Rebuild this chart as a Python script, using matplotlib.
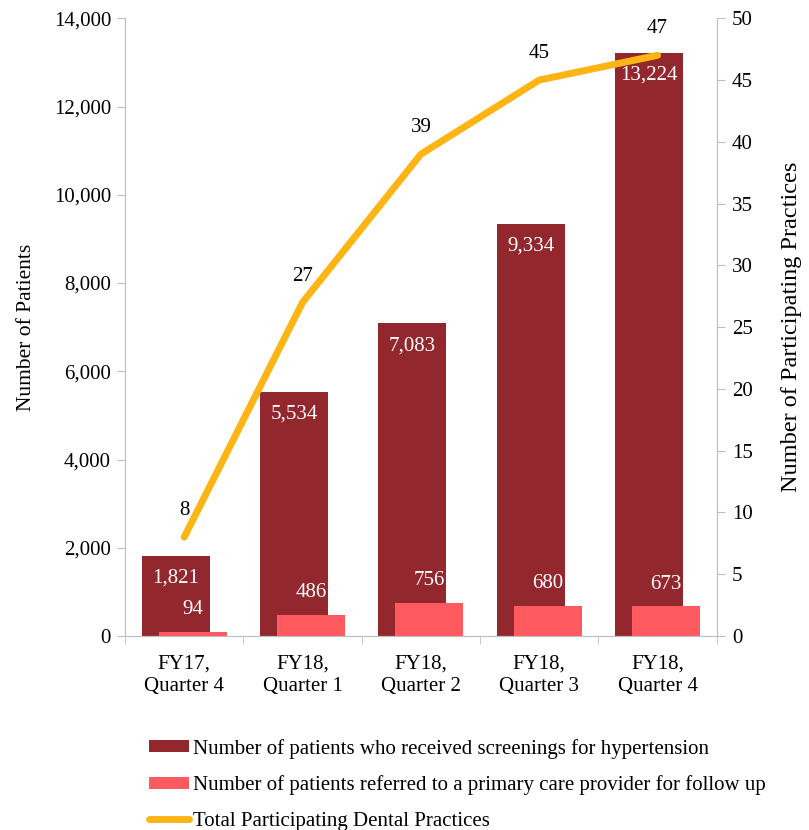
import matplotlib
matplotlib.use("Agg")
import matplotlib.pyplot as plt
import numpy as np

categories = ["FY17,\nQuarter 4", "FY18,\nQuarter 1", "FY18,\nQuarter 2", "FY18,\nQuarter 3", "FY18,\nQuarter 4"]
screened = [1821, 5534, 7083, 9334, 13224]
referred = [94, 486, 756, 680, 673]
practices = [8, 27, 39, 45, 47]

dark = "#92272D"
light = "#FF5A5F"
orange = "#FDB515"
grey = "#BFBFBF"

plt.rcParams['font.family'] = ['Liberation Serif', 'DejaVu Serif']

fig = plt.figure(figsize=(8.09, 8.30), dpi=100)
ax = fig.add_axes([0.1545, 0.2337, 0.7315, 0.7443])
ax2 = ax.twinx()

x = np.arange(len(categories))
w = 0.574
off = 0.072
b1 = ax.bar(x - off, screened, w, color=dark, label="Number of patients who received screenings for hypertension", zorder=2)
b2 = ax.bar(x + off, referred, w, color=light, label="Number of patients referred to a primary care provider for follow up", zorder=3)

for xi, v in zip(x, screened):
    ax.annotate(f"{v:,}", (xi - off, v), xytext=(0, -16), textcoords="offset points",
                ha="center", va="center", color="white", fontsize=15, zorder=5)
for xi, v in zip(x, referred):
    ax.annotate(f"{v:,}", (xi + off, v), xytext=(0, 16), textcoords="offset points",
                ha="center", va="center", color="white", fontsize=15, zorder=5)

ln, = ax2.plot(x, practices, color=orange, lw=5, solid_capstyle="round", label="Total Participating Dental Practices", zorder=4)
for xi, v in zip(x, practices):
    ax2.annotate(f"{v}", (xi, v), xytext=(0, 19), textcoords="offset points",
                 ha="center", va="center", color="black", fontsize=15)

ax.set_xlim(-0.5, len(categories) - 0.5)
ax.set_ylim(0, 14000)
ax2.set_ylim(0, 50)
ax.set_yticks(np.arange(0, 14001, 2000))
ax.set_yticklabels([f"{v:,}" for v in range(0, 14001, 2000)])
ax2.set_yticks(np.arange(0, 51, 5))
ax.set_xticks(x)
ax.set_xticklabels(categories, linespacing=1.3)
ax.set_xticks(np.arange(-0.5, len(categories), 1), minor=True)
ax.tick_params(axis="x", which="major", length=0, labelsize=15, pad=13)
ax.tick_params(axis="x", which="minor", length=6, color=grey)
ax.tick_params(axis="y", labelsize=15, length=6, color=grey, pad=4)
ax2.tick_params(axis="y", labelsize=15, length=6, color=grey, pad=5)

for a in (ax, ax2):
    a.spines["top"].set_visible(False)
    for s in ("left", "right", "bottom"):
        a.spines[s].set_color(grey)
ax.set_ylabel("Number of Patients", fontsize=15.5, labelpad=13)
ax2.set_ylabel("Number of Participating Practices", fontsize=17.5, labelpad=20)
ax2.set_zorder(ax.get_zorder() + 1)
ax2.patch.set_visible(False)

fig.legend(handles=[b1, b2, ln], loc="center", bbox_to_anchor=(0.565, 0.0545),
           frameon=False, fontsize=15, handlelength=1.92, handleheight=0.5,
           labelspacing=0.8, handletextpad=0.2, borderaxespad=0, borderpad=0)

fig.savefig("out.png", dpi=100)
